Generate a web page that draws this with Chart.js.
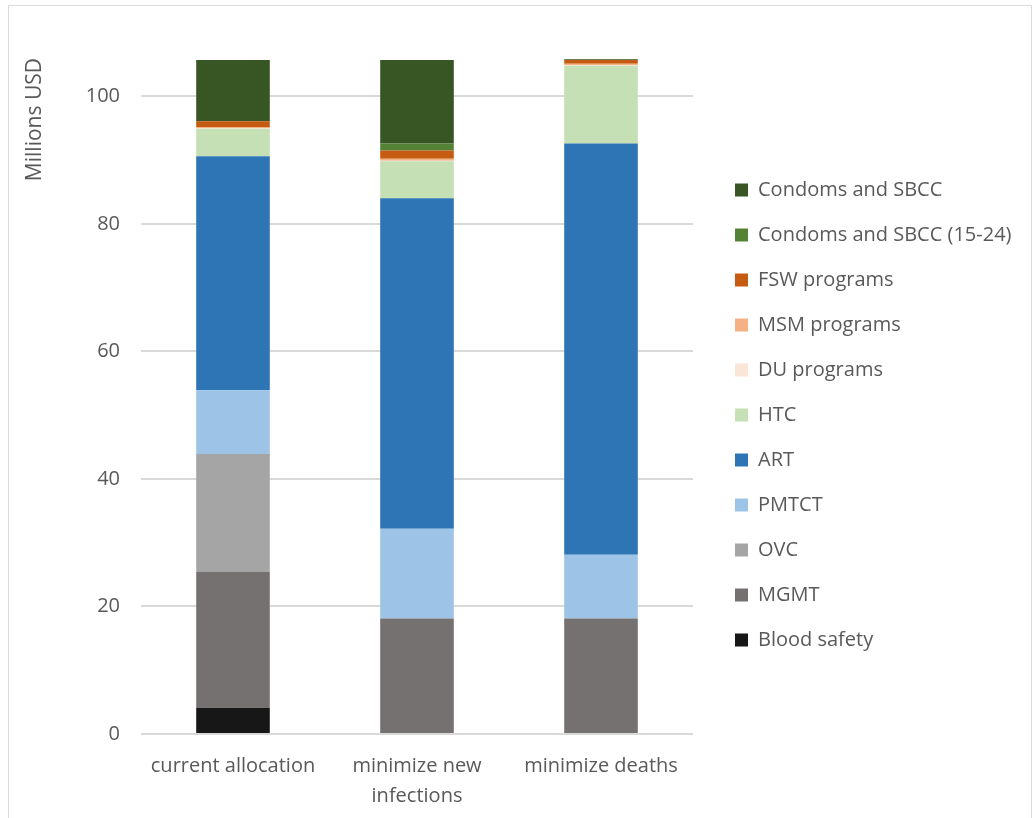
<!DOCTYPE html>
<html>
<head>
<meta charset="utf-8">
<script src="https://cdn.jsdelivr.net/npm/chart.js@4/dist/chart.umd.min.js"></script>
<style>
  body { margin: 0; background: #fff; }
  #wrap { position: relative; width: 1033px; height: 818px; }
  #frame { position: absolute; left: 8px; top: 5px; right: 1px; bottom: -5px; border: 1.5px solid #d9d9d9; }
</style>
</head>
<body>
<div id="wrap">
  <div id="frame"></div>
  <canvas id="budgetChart" width="1033" height="818"></canvas>
</div>
<script>
// Categories (scenarios) and spending per program, millions USD
const categories = ["current allocation", ["minimize new", "infections"], "minimize deaths"];
const bloodSafety = [4.1, 0, 0];
const mgmt = [21.3, 18.1, 18.1];
const ovc = [18.5, 0, 0];
const pmtct = [10.0, 14.1, 10.0];
const art = [36.7, 51.8, 64.5];
const htc = [4.3, 5.8, 12.2];
const duPrograms = [0.1, 0.1, 0.1];
const msmPrograms = [0.2, 0.3, 0.2];
const fswPrograms = [0.9, 1.3, 0.6];
const condomsYouth = [0, 1.1, 0];
const condoms = [9.6, 13.1, 0.1];
const yTicks = [0, 20, 40, 60, 80, 100];

const textColor = "#595959";
const font = { family: "'Open Sans', sans-serif", size: 20 };

// stacked from bottom to top
const datasets = [
  { label: "Blood safety", data: bloodSafety, backgroundColor: "#171717" },
  { label: "MGMT", data: mgmt, backgroundColor: "#767171" },
  { label: "OVC", data: ovc, backgroundColor: "#a5a5a5" },
  { label: "PMTCT", data: pmtct, backgroundColor: "#9dc3e6" },
  { label: "ART", data: art, backgroundColor: "#2e75b6" },
  { label: "HTC", data: htc, backgroundColor: "#c5e0b4" },
  { label: "DU programs", data: duPrograms, backgroundColor: "#fbe5d6" },
  { label: "MSM programs", data: msmPrograms, backgroundColor: "#f4b183" },
  { label: "FSW programs", data: fswPrograms, backgroundColor: "#c55a11" },
  { label: "Condoms and SBCC (15-24)", data: condomsYouth, backgroundColor: "#548235" },
  { label: "Condoms and SBCC", data: condoms, backgroundColor: "#375623" },
];

// legend sits in a fixed-width column on the right, nudged like the original
const legendPlacement = {
  id: "legendPlacement",
  afterInit(chart) {
    const fit = chart.legend.fit;
    chart.legend.fit = function () {
      fit.call(this);
      this.width = 340;
    };
  },
  afterLayout(chart) {
    const lg = chart.legend;
    lg.left += 17; lg.right += 17;
    lg.top -= 23; lg.bottom -= 23;
  },
};

const ctx = document.getElementById("budgetChart").getContext("2d");
const budgetChart = new Chart(ctx, {
  type: "bar",
  data: {
    labels: categories,
    datasets: datasets.map(d => ({ ...d, barPercentage: 0.4, categoryPercentage: 1 })),
  },
  plugins: [legendPlacement],
  options: {
    responsive: false,
    animation: false,
    layout: { padding: { left: 10, top: 58, right: 0, bottom: 0 } },
    plugins: {
      tooltip: { enabled: false },
      legend: {
        position: "right",
        reverse: true,
        maxWidth: 400,
        labels: {
          color: textColor,
          font: font,
          boxWidth: 13,
          boxHeight: 13,
          padding: 25,
        },
      },
    },
    scales: {
      x: {
        stacked: true,
        grid: { display: false },
        border: { display: false },
        afterFit: scale => { scale.height = 84; },
        ticks: { color: textColor, font: { ...font, lineHeight: 1.5 }, padding: 9, maxRotation: 0 },
      },
      y: {
        stacked: true,
        min: 0,
        max: 106,
        border: { display: false },
        grid: { color: "#d9d9d9", lineWidth: 2, drawTicks: false },
        afterBuildTicks: scale => {
          scale.ticks = yTicks.map(v => ({ value: v }));
        },
        afterFit: scale => { scale.width = 131; },
        ticks: { color: textColor, font: font, padding: 21 },
        title: {
          display: true,
          text: "Millions USD",
          align: "end",
          color: textColor,
          font: { ...font, size: 21 },
          padding: { top: 12, bottom: 0 },
        },
      },
    },
  },
});
</script>
</body>
</html>
